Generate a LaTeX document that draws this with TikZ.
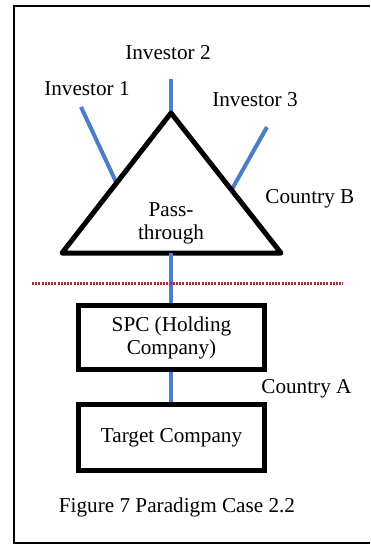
\documentclass[tikz,border=0pt]{standalone}
\usepackage{fontspec}
\setmainfont{Liberation Serif}
\usepackage{tikz}
\usetikzlibrary{positioning, calc}
\usepackage{xcolor}
\definecolor{linkBlue}{HTML}{4A7EC8}
\definecolor{borderRed}{HTML}{A8323C}
\tikzset{
  label/.style = {align=center, inner sep=0pt, font=\fontsize{10.6}{11.5}\selectfont},
  boxNode/.style = {label, draw=black, line width=2.5pt, minimum width=93pt},% societe
  link/.style = {linkBlue, line width=2pt},% lien de participation
  border/.style = {borderRed, line width=1.5pt, dash pattern=on 1pt off 0.6pt},% frontiere
}
\begin{document}
\begin{tikzpicture}[x=0.5pt, y=-0.5pt]
\useasboundingbox (0,0) rectangle (370,546);
\draw[line width=1pt] (370,6) -- (14,6) -- (14,543) -- (370,543);
% pass-through
\coordinate (apex) at (171,113);
\coordinate (left) at (62,253);
\coordinate (right) at (281,253);
\coordinate (base) at (171,253);
\coordinate (inv1) at (81,107);
\coordinate (inv2) at (171,79);
\coordinate (inv3) at (267,127);
\draw[link] (inv1) -- ($(apex)!0.5!(left)$);
\draw[link] (inv2) -- (apex);
\draw[link] (inv3) -- ($(apex)!0.55!(right)$);
\draw[line width=2.5pt, line join=round, fill=white] (apex) -- (left) -- (right) -- cycle;
\node [label] (pass) at (171,223) {Pass-\\through};
\node [label] (i1) at (87,89) {Investor 1};
\node [label] (i2) at (168,53) {Investor 2};
\node [label] (i3) at (255,100) {Investor 3};
\node [label, anchor=west] (cb) at (265,199) {Country B};
% frontiere
\coordinate (bl) at (32,283);
\coordinate (br) at (343,283);
\node [boxNode, minimum height=32pt] (spc) at (171.5,337.5) {SPC (Holding\\Company)};
\node [boxNode, minimum height=33pt] (target) at (171.5,437.5) {Target Company};
\draw[link] (base) -- (spc.north -| base);
\draw[border] (bl) -- (br);
\draw[link] (spc.south -| base) -- (target.north -| base);
\node [label, anchor=west] (ca) at (261,389) {Country A};
\node [label] (fig) at (177,507) {Figure 7 Paradigm Case 2.2};
\end{tikzpicture}
\end{document}
